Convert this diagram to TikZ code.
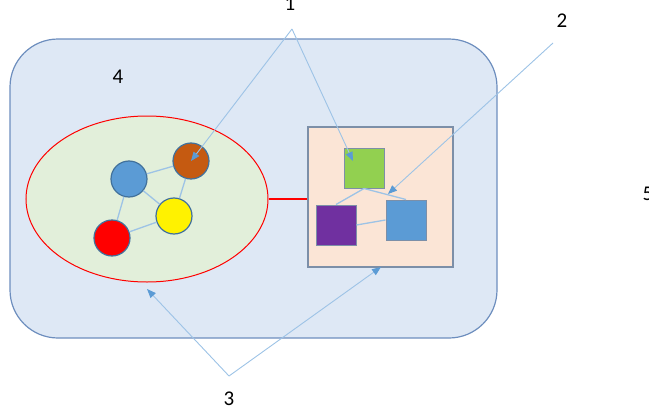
\documentclass[tikz,border=0pt]{standalone}
\usepackage{fontspec}
\setmainfont{Carlito}
\usetikzlibrary{arrows.meta,shapes.geometric}
\definecolor{outerfill}{RGB}{222,232,245}
\definecolor{outerdraw}{RGB}{109,142,190}
\definecolor{ellfill}{RGB}{226,239,218}
\definecolor{boxfill}{RGB}{251,229,214}
\definecolor{boxdraw}{RGB}{124,143,168}
\definecolor{cblue}{RGB}{91,155,213}
\definecolor{cbrown}{RGB}{197,90,17}
\definecolor{cgreen}{RGB}{146,208,80}
\definecolor{cpurple}{RGB}{112,48,160}
\definecolor{cborder}{RGB}{65,113,156}
\definecolor{linkc}{RGB}{157,195,230}
\definecolor{tipc}{RGB}{91,155,213}
\tikzset{
  dot/.style={circle, draw=cborder, line width=1.2pt, minimum size=36pt, inner sep=0pt},
  sq/.style={rectangle, draw=boxdraw, line width=1pt, minimum size=40pt, inner sep=0pt},
  link/.style={draw=linkc, line width=1.3pt},
  pointer/.style={draw=linkc, line width=0.9pt, -{Triangle[length=9pt,width=7pt,fill=tipc,color=tipc]}},
  lbl/.style={font=\fontsize{21}{24}\selectfont, anchor=base, inner sep=0pt}
}
\begin{document}
\begin{tikzpicture}[x=1pt,y=-1pt]
\useasboundingbox (0,0) rectangle (649,407);
% outer rounded rectangle
\node[draw=outerdraw, fill=outerfill, line width=1.2pt, rounded corners=48pt,
      minimum width=487pt, minimum height=299pt, inner sep=0pt] (outer) at (253.5,188.5) {};
% ellipse
\node[ellipse, draw=red, fill=ellfill, line width=1pt, minimum width=242pt, minimum height=166pt, inner sep=0pt] (ell) at (147,199) {};
% box
\node[rectangle, draw=boxdraw, fill=boxfill, line width=1.2pt, minimum width=145pt, minimum height=140pt, inner sep=0pt] (box) at (380.5,197) {};
% red connector
\draw[red, line width=2.5pt] (ell.east) -- (ell.east -| box.west);
% circles
\node[dot, fill=cblue] (cb) at (129,179) {};
\node[dot, fill=cbrown] (cr) at (191,161) {};
\node[dot, fill=yellow] (cy) at (174,216) {};
\node[dot, fill=red] (cd) at (112,238) {};
\draw[link] (cb) -- (cr);
\draw[link] (cb) -- (cy);
\draw[link] (cb) -- (cd);
\draw[link] (cd) -- (cy);
\draw[link] (cy) -- (cr);
% squares
\node[sq, fill=cgreen] (sg) at (364,168) {};
\node[sq, fill=cpurple] (sp) at (336,225) {};
\node[sq, fill=cblue] (sb) at (406,220) {};
\draw[link] (sg.south) -- (sp.north);
\draw[link] (sg.south) -- (sb.north);
\draw[link] (sp.east) -- (sb.west);
% labels
\node[lbl] (l1) at (290,10) {1};
\node[lbl] (l2) at (562,27) {2};
\node[lbl] (l3) at (229,405) {3};
\node[lbl] (l4) at (118,83) {4};
\node[lbl] (l5) at (648,200) {5};
% pointer apexes and targets
\coordinate (a1) at (292,29);
\coordinate (a2) at (553,43);
\coordinate (a3) at (229,376);
\coordinate (t1g) at (353,161);
\coordinate (t2) at (388,194);
\coordinate (t3e) at (147,289);
\coordinate (t3b) at (381,267);
\draw[pointer] (a1) -- (cr.center);
\draw[pointer] (a1) -- (t1g);
\draw[pointer] (a2) -- (t2);
\draw[pointer] (a3) -- (t3e);
\draw[pointer] (a3) -- (t3b);
\end{tikzpicture}
\end{document}
